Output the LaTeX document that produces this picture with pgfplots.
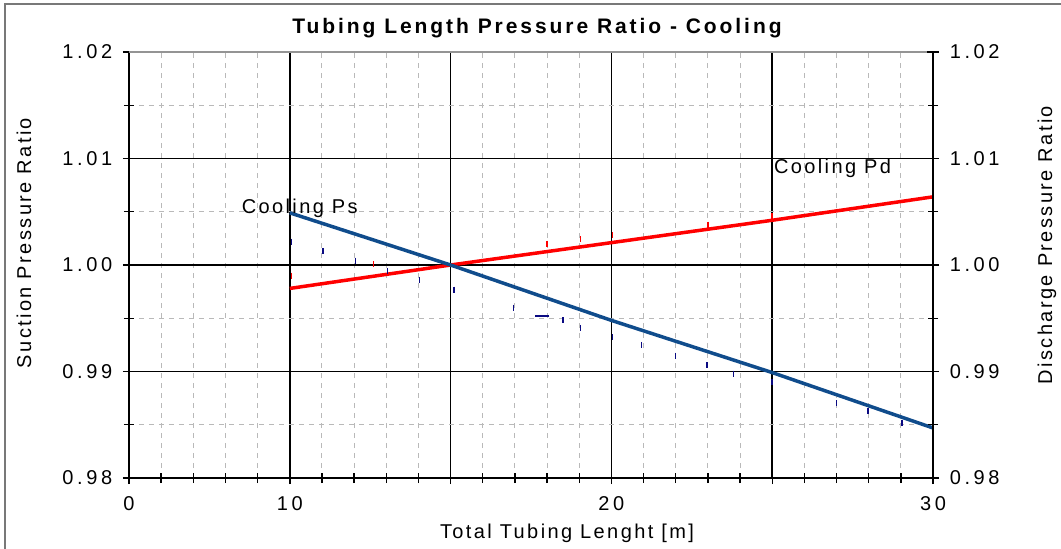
\documentclass[border=0pt]{standalone}
\usepackage{fontspec}
\setmainfont{Liberation Sans}[LetterSpace=12]
\usepackage{pgfplots}
\pgfplotsset{compat=1.18}
\definecolor{psblue}{RGB}{16,76,140}
\definecolor{dotblue}{RGB}{10,10,130}
\definecolor{gridgray}{RGB}{185,185,185}
\definecolor{framegray}{RGB}{120,120,120}
\begin{document}
\fontsize{20}{24}\selectfont
\begin{tikzpicture}
\useasboundingbox (0,0) rectangle (1061pt,-549pt);
\draw[framegray, line width=2pt] (5pt,-549pt) -- (5pt,-4pt) -- (1061pt,-4pt);
\begin{axis}[
  at={(129pt,-478pt)}, anchor=south west,
  scale only axis, width=804pt, height=426pt,
  xmin=5, xmax=30, ymin=0.98, ymax=1.02,
  axis x line*=bottom, axis y line*=left,
  axis line style={-, black, line width=1.6pt},
  xtick={5,10,15,20,25,30}, xticklabels={0,10,{},20,{},30},
  minor x tick num=4,
  ytick={0.98,0.99,1.00,1.01,1.02},
  minor y tick num=1,
  tick align=center,
  major tick length=12pt, minor tick length=10pt,
  every tick/.style={black, line width=1.4pt},
  grid=both,
  major grid style={black, line width=1.5pt},
  minor grid style={gridgray, line width=1pt, dash pattern=on 5pt off 5pt},
  yticklabel style={/pgf/number format/fixed, /pgf/number format/fixed zerofill, /pgf/number format/precision=2, xshift=-4pt},
  /pgf/number format/assume math mode=true,
  tick label style={font=\addfontfeature{LetterSpace=18}},
  xticklabel style={yshift=-6pt},
  clip=false,
]
\draw[gridgray!80!black, line width=1.3pt] (axis cs:5,1.02) -- (axis cs:30,1.02);
% Pd scatter
\addplot[only marks, mark=|, mark size=3pt, red, line width=1.5pt] coordinates {
 (10.06,0.9990) (12.6,1.0001) (18.0,1.0020) (19.04,1.0024) (20.03,1.0028)
 (23.0,1.0038) (25.0,1.0046) (30,1.0066) (30,0.9843)};
% Ps scatter
\addplot[only marks, mark=|, mark size=3pt, dotblue, line width=1.5pt] coordinates {
 (10.06,1.0022) (11.03,1.0013) (12.05,1.0004) (13.04,0.9994) (14.04,0.9986)
 (15.1,0.9977) (16.96,0.9960) (18.5,0.9948) (19.04,0.9941) (20.03,0.9932)
 (20.93,0.9925) (22.0,0.9915) (22.98,0.9906) (23.8,0.9898) (25.0,0.9890)
 (27.0,0.9870) (27.98,0.9863) (29.04,0.9852)};
\addplot[only marks, mark=-, mark size=7pt, dotblue, line width=1.5pt] coordinates {(17.85,0.9952)};
% Cooling Pd
\addplot[red, line width=3.5pt] coordinates {
 (10,0.9978) (15,1.0000) (20,1.0021) (25,1.0042) (30,1.0064)};
% Cooling Ps
\addplot[psblue, line width=3.5pt] coordinates {
 (10,1.0049) (15,1.0000) (20,0.9948) (25,0.9899) (30,0.9847)};
\node[anchor=base west, inner sep=0] at (axis cs:8.5,1.0048) {Cooling Ps};
\node[anchor=base west, inner sep=0] at (axis cs:25.05,1.0086) {Cooling Pd};
\end{axis}
\begin{axis}[
  at={(129pt,-478pt)}, anchor=south west,
  scale only axis, width=804pt, height=426pt,
  xmin=5, xmax=30, ymin=0.98, ymax=1.02,
  hide x axis, axis y line*=right,
  axis line style={-, black, line width=1.6pt},
  ytick={0.98,0.99,1.00,1.01,1.02},
  minor y tick num=1,
  tick align=center,
  major tick length=12pt, minor tick length=10pt,
  every tick/.style={black, line width=1.4pt},
  yticklabel style={/pgf/number format/fixed, /pgf/number format/fixed zerofill, /pgf/number format/precision=2, xshift=4pt},
  /pgf/number format/assume math mode=true,
  tick label style={font=\addfontfeature{LetterSpace=18}},
]
\addplot[draw=none] coordinates {(5,1.0) (30,1.0)};
\end{axis}
\node[font=\fontsize{21}{25}\selectfont\bfseries\addfontfeature{LetterSpace=14}, anchor=base] at (537pt,-33pt) {Tubing Length Pressure Ratio - Cooling};
\node[rotate=90] at (24pt,-243pt) {Suction Pressure Ratio};
\node[rotate=90] at (1047pt,-245pt) {Discharge Pressure Ratio};
\node[anchor=base] at (567pt,-538pt) {Total Tubing Lenght [m]};
\end{tikzpicture}
\end{document}
